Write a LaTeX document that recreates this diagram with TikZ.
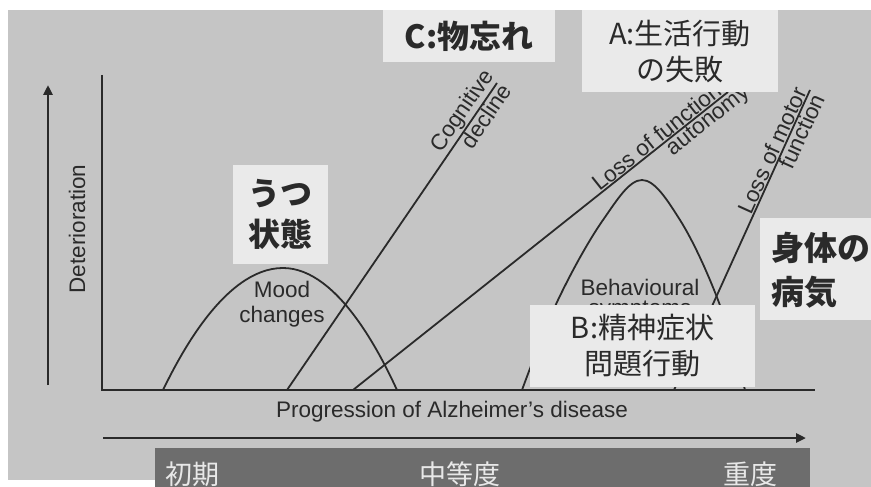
\documentclass[tikz,border=0pt]{standalone}
\usepackage{fontspec}
\setmainfont{Liberation Sans}
\newfontfamily\cjk{Noto Sans CJK JP}
\usetikzlibrary{arrows.meta}
\definecolor{bg}{HTML}{C5C5C5}
\definecolor{boxc}{HTML}{EAEAEA}
\definecolor{barc}{HTML}{6D6D6D}
\definecolor{ink}{HTML}{2A2A2A}
\definecolor{bartext}{HTML}{E8E8E8}
\begin{document}
\begin{tikzpicture}[x=1pt,y=-1pt,
  curve/.style={draw=ink, line width=1.8pt},
  axisline/.style={draw=ink, line width=2.6pt},
  lab/.style={font=\fontsize{22.5}{25}\selectfont, text=ink, inner sep=0.5pt},
  jbox/.style={fill=boxc, inner sep=0pt, text=ink, align=center},
  jbold/.style={font=\cjk\bfseries\fontsize{32}{41}\selectfont},
  jreg/.style={font=\cjk\fontsize{29}{36}\selectfont},
  barlab/.style={font=\cjk\fontsize{27}{30}\selectfont, text=bartext}]
\useasboundingbox (0,0) rectangle (871,487);
\fill[white] (0,0) rectangle (871,487);
\fill[bg] (8,10) rectangle (871,480);
\fill[bg] (155,480) rectangle (871,487);

% axes
\coordinate (ytop) at (102,75);
\coordinate (O) at (102,390);
\coordinate (xend) at (815,390);
\draw[axisline] (ytop) -- (O) -- (xend);
\coordinate (ya0) at (48,385);
\coordinate (ya1) at (48,85);
\draw[axisline, -{Triangle[length=10pt,width=9pt]}] (ya0) -- (ya1);
\coordinate (xa0) at (103,438);
\coordinate (xa1) at (806,438);
\draw[axisline, -{Triangle[length=10pt,width=9pt]}] (xa0) -- (xa1);
\node[lab, rotate=90] (det) at (77,229) {Deterioration};
\node[lab] (prog) at (452,412) {Progression of Alzheimer's disease};

% stage bar
\fill[barc] (155,448) rectangle (810,487);
\node[barlab] (early) at (192,474) {初期};
\node[barlab] (mid) at (460,474) {中等度};
\node[barlab] (late) at (750,474) {重度};

% mood changes
\coordinate (m0) at (163,390);
\coordinate (mtop) at (283,268);
\coordinate (m1) at (397,390);
\draw[curve] (m0) parabola bend (mtop) (m1);
\node[lab, align=center] (mood) at (282,304) {Mood\\changes};

% cognitive decline
\coordinate (c0) at (287,390);
\coordinate (c1) at (497,83);
\draw[curve] (c0) -- (c1)
  node[lab, pos=0.886, sloped, above] (cog) {Cognitive}
  node[lab, pos=0.91, sloped, below] (dec) {decline};

% behavioural symptoms
\draw[curve] plot[smooth, tension=0.6] coordinates {(522,390) (558,300) (603,220) (642,180) (680,220) (718,300) (745,390)};
\node[lab] (beh) at (640,287) {Behavioural};
\node[lab] (sym) at (640,311) {symptoms};

% loss of functional autonomy
\coordinate (f0) at (353,390);
\coordinate (f1) at (728,92);
\draw[curve] (f0) -- (f1)
  node[lab, pos=0.843, sloped, above] (lfa) {Loss of functional}
  node[lab, pos=0.93, sloped, below] (aut) {autonomy};

% loss of motor function
\coordinate (l0) at (674,390);
\coordinate (l1) at (810,90);
\draw[curve] (l0) -- (l1)
  node[lab, pos=0.785, sloped, above] (lmo) {Loss of motor}
  node[lab, pos=0.876, sloped, below] (fun) {function};

% Japanese label boxes
\node[jbox, jbold, minimum width=172pt, minimum height=52pt] (C) at (469,36) {C:物忘れ};
\node[jbox, jreg, minimum width=196pt, minimum height=82pt] (A) at (680,51) {A:生活行動\\の失敗};
\node[jbox, jbold, minimum width=95pt, minimum height=99pt] (dep) at (280.5,214.5) {うつ\\状態};
\fill[boxc] (760,218) rectangle (871,320);
\node[text=ink, align=left, anchor=west, inner sep=0pt, font=\cjk\bfseries\fontsize{33}{44}\selectfont] (phys) at (771,270) {身体の\\病気};
\node[jbox, jreg, minimum width=225pt, minimum height=82pt] (B) at (642.5,346) {B:精神症状\\問題行動};
\end{tikzpicture}
\end{document}
